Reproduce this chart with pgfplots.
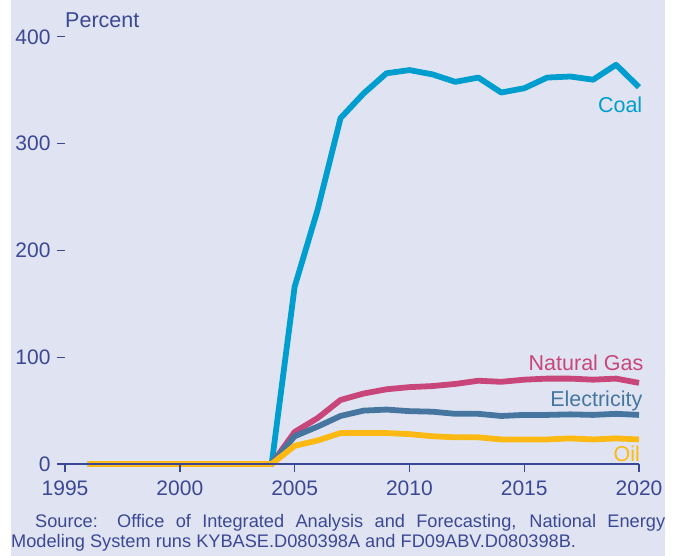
\documentclass[border=0pt]{standalone}
\usepackage{pgfplots}
\pgfplotsset{compat=1.18}
\usepackage{fontspec}
\setmainfont{Liberation Sans}

\definecolor{bgc}{RGB}{224,228,242}
\definecolor{txt}{RGB}{59,72,148}
\definecolor{coal}{RGB}{0,158,206}
\definecolor{gas}{RGB}{200,70,122}
\definecolor{elec}{RGB}{70,118,160}
\definecolor{oil}{RGB}{253,185,19}

\begin{document}
\begin{tikzpicture}[x=1bp,y=1bp]
  % page and panel
  \fill[white] (0,0) rectangle (678,-556);
  \fill[bgc] (11,0) rectangle (665,-556);
  \begin{axis}[
    at={(57bp,-464bp)}, anchor=south west,
    scale only axis,
    width=582bp, height=427bp,
    xmin=1994.65, xmax=2020,
    ymin=0, ymax=400,
    clip=false,
    axis on top,
    axis x line*=bottom,
    axis y line*=left,
    y axis line style={draw=none},
    axis line style={txt, line width=1.4bp},
    xtick={1995,2000,...,2020},
    ytick={0,100,...,400},
    major tick length=8bp,
    x tick style={txt, line width=1.4bp},
    y tick style={txt, line width=1bp},
    xtick align=outside,
    ytick align=inside,
    tick label style={font=\fontsize{21bp}{24bp}\selectfont, text=txt},
    x tick label style={yshift=-5bp},
    y tick label style={xshift=-3bp},
    /pgf/number format/assume math mode=true,
    /pgf/number format/1000 sep={},
    every axis plot/.append style={line width=5.8bp, line join=round},
  ]
    \addplot[coal] coordinates {
      (1996,0)(1997,0)(1998,0)(1999,0)(2000,0)(2001,0)(2002,0)(2003,0)(2004,0)
      (2005,166)(2006,238)(2007,324)(2008,347)(2009,366)(2010,369)(2011,365)
      (2012,358)(2013,362)(2014,348)(2015,352)(2016,362)(2017,363)(2018,360)
      (2019,374)(2020,353)};
    \addplot[gas] coordinates {
      (1996,0)(1997,0)(1998,0)(1999,0)(2000,0)(2001,0)(2002,0)(2003,0)(2004,0)
      (2005,30)(2006,43)(2007,60)(2008,66)(2009,70)(2010,72)(2011,73)
      (2012,75)(2013,78)(2014,77)(2015,79)(2016,80)(2017,80)(2018,79)
      (2019,80)(2020,76)};
    \addplot[elec] coordinates {
      (1996,0)(1997,0)(1998,0)(1999,0)(2000,0)(2001,0)(2002,0)(2003,0)(2004,0)
      (2005,26)(2006,35)(2007,45)(2008,50)(2009,51)(2010,49.5)(2011,49)
      (2012,47)(2013,47)(2014,45)(2015,46)(2016,46)(2017,46.5)(2018,46)
      (2019,47)(2020,46)};
    \addplot[oil] coordinates {
      (1996,0)(1997,0)(1998,0)(1999,0)(2000,0)(2001,0)(2002,0)(2003,0)(2004,0)
      (2005,17)(2006,22)(2007,29)(2008,29)(2009,29)(2010,28)(2011,26)
      (2012,25)(2013,25)(2014,23)(2015,23)(2016,23)(2017,24)(2018,23)
      (2019,24)(2020,23)};
    \begin{scope}[every node/.style={font=\fontsize{21.5bp}{24bp}\selectfont, inner sep=0pt}]
      \node[anchor=base east, text=coal] at (axis cs:2020.15,329) {Coal};
      \node[anchor=base east, text=gas] at (axis cs:2020.2,88) {Natural Gas};
      \node[anchor=base east, text=elec] at (axis cs:2020.15,53.5) {Electricity};
      \node[anchor=base east, text=oil] at (axis cs:2020.05,2) {Oil};
      \node[anchor=base west, text=txt] at (axis cs:1995,409) {Percent};
    \end{scope}
  \end{axis}
  \node[anchor=north west, inner sep=0pt, text=txt] at (11,-514) {%
    \parbox{654bp}{\fontsize{18.2bp}{20.5bp}\selectfont\hyphenpenalty=10000\parindent=24bp\indent
    Source: Office of Integrated Analysis and Forecasting, National Energy\linebreak Modeling System runs KYBASE.D080398A and FD09ABV.D080398B.}};
  \useasboundingbox (0,0) rectangle (678,-556);
\end{tikzpicture}
\end{document}
